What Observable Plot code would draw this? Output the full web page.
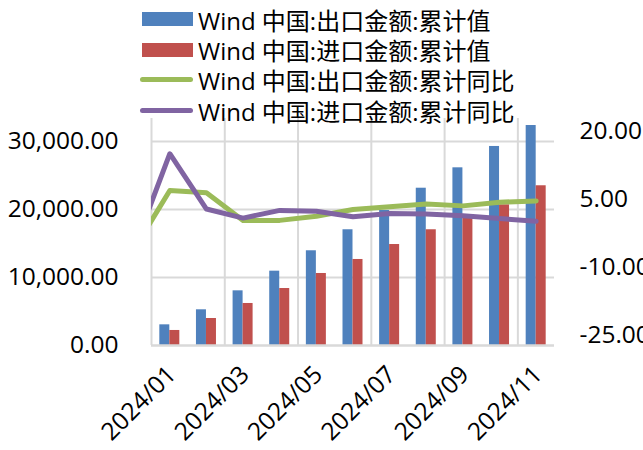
<!DOCTYPE html>
<html>
<head>
<meta charset="utf-8">
<script src="https://cdn.jsdelivr.net/npm/d3@7"></script>
<script src="https://cdn.jsdelivr.net/npm/@observablehq/plot@0.6"></script>
<style>
  html, body { margin: 0; padding: 0; background: #fff; }
  #chart { position: relative; width: 643px; height: 450px; overflow: hidden;
           font-family: "Open Sans", "Noto Sans CJK SC", sans-serif; }
  #legend { position: absolute; left: 140px; top: 4px; font-size: 24px; color: #000; }
  #legend .row { display: flex; align-items: center; height: 30.4px; white-space: nowrap; }
  #legend .sw { width: 53px; margin-right: 5px; display: flex; align-items: center; }
</style>
</head>
<body>
<div id="chart"></div>
<script>
// Monthly categories for the bars (cumulative values, 亿美元)
const months = ["2024/01", "2024/02", "2024/03", "2024/04", "2024/05", "2024/06",
                "2024/07", "2024/08", "2024/09", "2024/10", "2024/11"];
const exportValue = [3040, 5250, 8040, 10930, 13930, 17020, 19850, 23130, 26130, 29270, 32350];
const importValue = [2210, 3970, 6180, 8380, 10590, 12650, 14850, 17020, 18700, 20690, 23490];

// Cumulative year-on-year growth (%), series starts one month earlier
const lineMonths = ["2023/12", ...months];
const exportYoY = [-4.1, 9.2, 8.7, 2.6, 2.6, 3.5, 5.0, 5.6, 6.2, 5.8, 6.6, 6.9];
const importYoY = [-4.1, 17.3, 5.1, 3.1, 4.8, 4.6, 3.4, 4.1, 4.0, 3.6, 3.0, 2.4];

// Axis ticks
const leftTicks = [0, 10000, 20000, 30000];
const rightTicks = [-25, -10, 5, 20];

const seriesNames = ["Wind 中国:出口金额:累计值", "Wind 中国:进口金额:累计值",
                     "Wind 中国:出口金额:累计同比", "Wind 中国:进口金额:累计同比"];
const colors = ["#4F81BD", "#C0504D", "#9BBB59", "#8064A2"];

// Secondary (percent) axis mapped onto the primary value axis
const toLeft = d3.scaleLinear().domain([-25, 20]).range([0, 30000]);

const bars = months.map((m, i) => ({month: m, pos: i, exp: exportValue[i], imp: importValue[i]}));
const pos = (m) => lineMonths.indexOf(m) - 1;
const lines = lineMonths.map((m, i) => ({pos: pos(m), exp: toLeft(exportYoY[i]), imp: toLeft(importYoY[i])}));

const barHalf = 0.273;
const fs = 24.5;
const gridColor = "#d9d9d9";

const chart = Plot.plot({
  width: 643,
  height: 450,
  marginLeft: 151,
  marginRight: 89,
  marginTop: 118,
  marginBottom: 105,
  style: {fontFamily: "'Open Sans', 'Noto Sans CJK SC', sans-serif", fontSize: fs + "px", color: "#000", background: "#fff"},
  x: {domain: [-0.5, months.length - 0.5], axis: null},
  y: {domain: [0, 30000 * 227 / 204], axis: null},
  marks: [
    Plot.gridY({ticks: leftTicks.slice(1), stroke: gridColor, strokeOpacity: 1, strokeWidth: 2}),
    Plot.ruleX(months.map((m, i) => i - 0.5).filter((d, i) => i % 2 === 0),
      {stroke: gridColor, strokeWidth: 2}),
    Plot.rectY(bars, {x1: (d) => d.pos - barHalf, x2: (d) => d.pos, y: "exp", fill: colors[0]}),
    Plot.rectY(bars, {x1: (d) => d.pos, x2: (d) => d.pos + barHalf, y: "imp", fill: colors[1]}),
    Plot.ruleY([0], {stroke: gridColor, strokeWidth: 2.5}),
    Plot.line(lines, {x: "pos", y: "exp", stroke: colors[2], strokeWidth: 5,
      strokeLinecap: "round", strokeLinejoin: "round", clip: true}),
    Plot.line(lines, {x: "pos", y: "imp", stroke: colors[3], strokeWidth: 5,
      strokeLinecap: "round", strokeLinejoin: "round", clip: true}),
    Plot.axisY({ticks: leftTicks, anchor: "left", tickSize: 0, tickPadding: 33, label: null,
      tickFormat: d3.format(",.2f"), fontSize: fs}),
    Plot.axisY({ticks: rightTicks.map(toLeft), anchor: "right", tickSize: 0, tickPadding: 25, dy: -10, label: null,
      tickFormat: (d) => toLeft.invert(d).toFixed(2), fontSize: fs}),
    Plot.axisX({ticks: months.map((m, i) => i).filter((i) => i % 2 === 0), anchor: "bottom", label: null,
      tickSize: 0, tickRotate: -45, tickPadding: 25, dx: 2, tickFormat: (i) => months[i], fontSize: fs})
  ]
});

const root = document.getElementById("chart");
root.appendChild(chart);

// Legend overlaid on the upper part of the chart
const legend = document.createElement("div");
legend.id = "legend";
seriesNames.forEach((name, k) => {
  const row = document.createElement("div");
  row.className = "row";
  const sw = document.createElement("span");
  sw.className = "sw";
  const mark = document.createElement("span");
  mark.style.display = "block";
  mark.style.background = colors[k];
  if (k < 2) {
    mark.style.width = "51px"; mark.style.height = "14px"; mark.style.marginLeft = "2px";
  } else {
    mark.style.width = "53px"; mark.style.height = "5px"; mark.style.borderRadius = "3px";
  }
  sw.appendChild(mark);
  const label = document.createElement("span");
  label.textContent = name;
  row.appendChild(sw);
  row.appendChild(label);
  legend.appendChild(row);
});
root.appendChild(legend);
</script>
</body>
</html>
